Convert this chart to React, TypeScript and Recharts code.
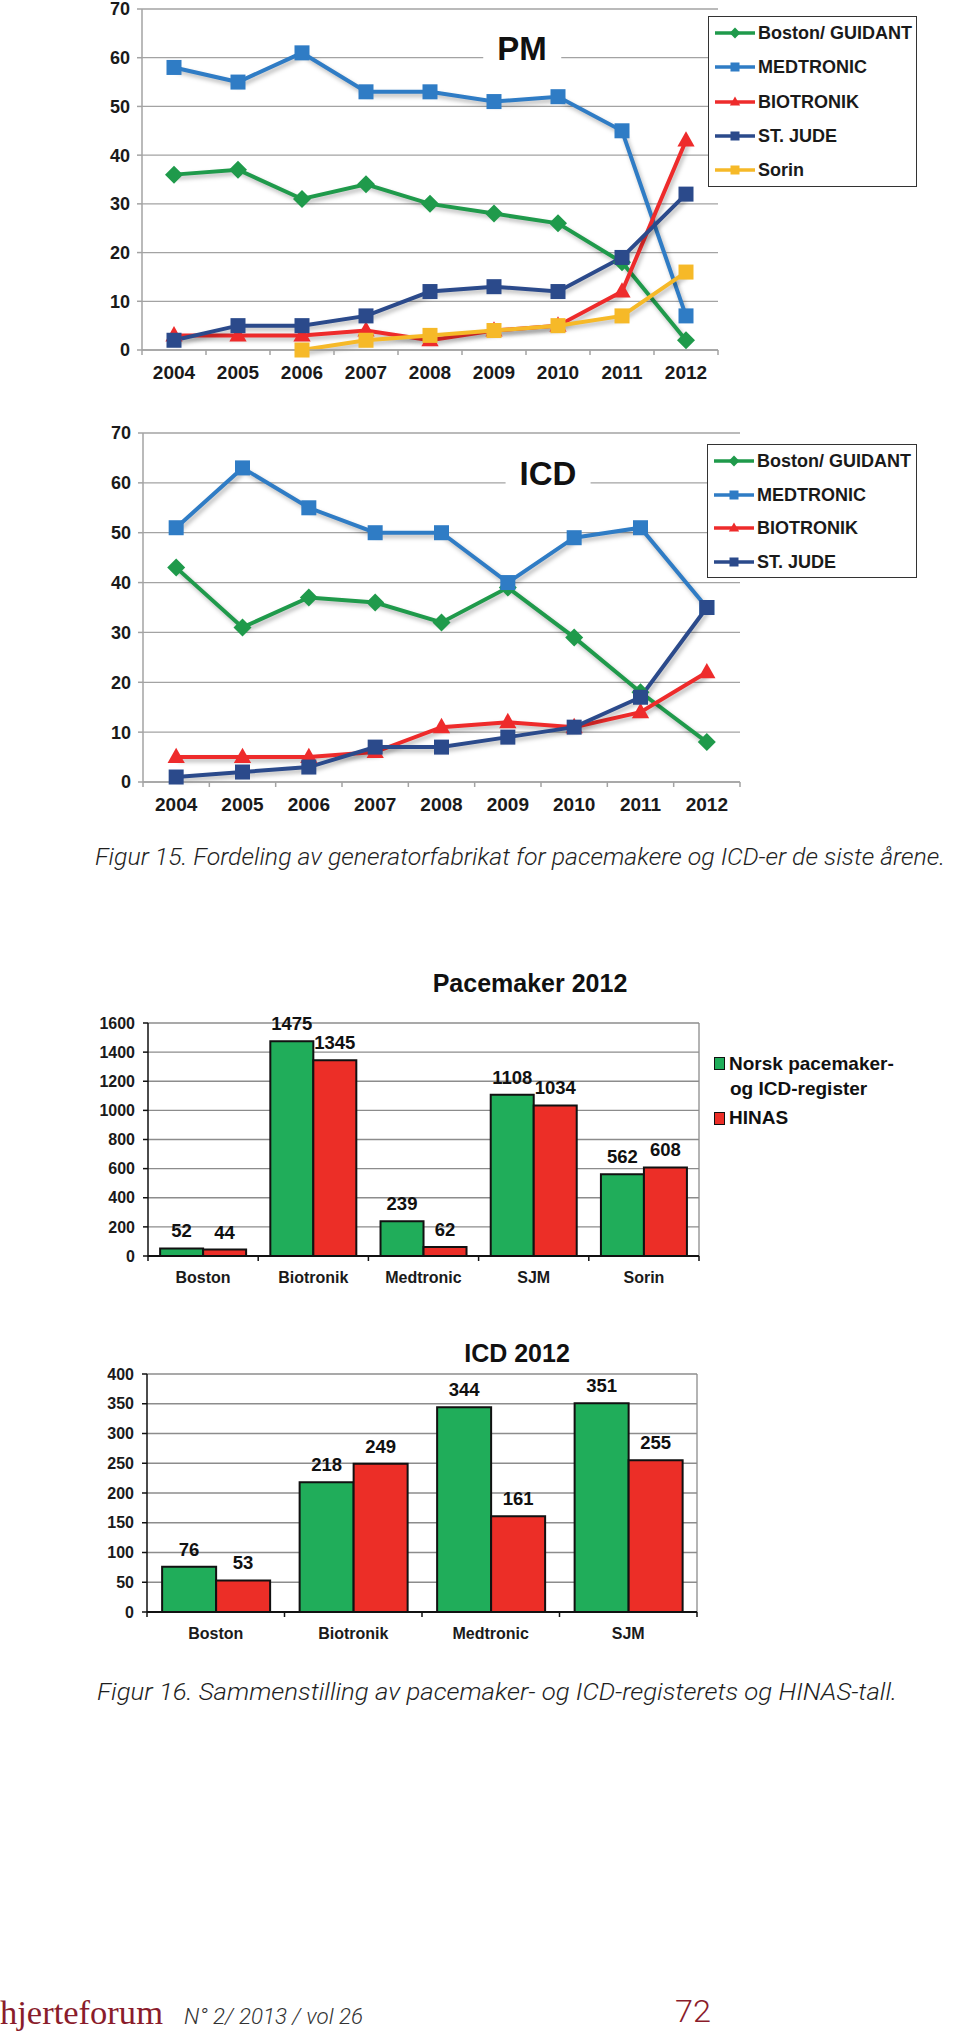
import React from "react";
import {
  LineChart,
  Line,
  BarChart,
  Bar,
  XAxis,
  YAxis,
  CartesianGrid,
  LabelList,
} from "recharts";

// ---- data ----
const years = ["2004", "2005", "2006", "2007", "2008", "2009", "2010", "2011", "2012"];
const percentTicks = [0, 10, 20, 30, 40, 50, 60, 70];

// PM shares (%)
const pmBoston = [36, 37, 31, 34, 30, 28, 26, 18, 2];
const pmMedtronic = [58, 55, 61, 53, 53, 51, 52, 45, 7];
const pmBiotronik = [3, 3, 3, 4, 2, 4, 5, 12, 43];
const pmStJude = [2, 5, 5, 7, 12, 13, 12, 19, 32];
const pmSorin = [null, null, 0, 2, 3, 4, 5, 7, 16];

// ICD shares (%)
const icdBoston = [43, 31, 37, 36, 32, 39, 29, 18, 8];
const icdMedtronic = [51, 63, 55, 50, 50, 40, 49, 51, 35];
const icdBiotronik = [5, 5, 5, 6, 11, 12, 11, 14, 22];
const icdStJude = [1, 2, 3, 7, 7, 9, 11, 17, 35];

// Pacemaker 2012
const pmMakers = ["Boston", "Biotronik", "Medtronic", "SJM", "Sorin"];
const pmRegister = [52, 1475, 239, 1108, 562];
const pmHinas = [44, 1345, 62, 1034, 608];
const pmCountTicks = [0, 200, 400, 600, 800, 1000, 1200, 1400, 1600];

// ICD 2012
const icdMakers = ["Boston", "Biotronik", "Medtronic", "SJM"];
const icdRegister = [76, 218, 344, 351];
const icdHinas = [53, 249, 161, 255];
const icdCountTicks = [0, 50, 100, 150, 200, 250, 300, 350, 400];

const pmData = years.map((year, i) => ({
  year,
  boston: pmBoston[i],
  medtronic: pmMedtronic[i],
  biotronik: pmBiotronik[i],
  stjude: pmStJude[i],
  sorin: pmSorin[i],
}));
const icdData = years.map((year, i) => ({
  year,
  boston: icdBoston[i],
  medtronic: icdMedtronic[i],
  biotronik: icdBiotronik[i],
  stjude: icdStJude[i],
}));
const pmBarData = pmMakers.map((name, i) => ({ name, register: pmRegister[i], hinas: pmHinas[i] }));
const icdBarData = icdMakers.map((name, i) => ({ name, register: icdRegister[i], hinas: icdHinas[i] }));

// ---- styles ----
const FONT = "'Liberation Sans', Arial, sans-serif";
const GREEN = "#1f9a4b";
const BLUE = "#2f7cc5";
const RED = "#ee2b2b";
const NAVY = "#2b4a8b";
const YELLOW = "#f6b928";
const GRID = "#a3a3a3";
const BAR_GREEN = "#20ad5a";
const BAR_RED = "#ec2e27";

const pmSeries = [
  { key: "boston", name: "Boston/ GUIDANT", color: GREEN, shape: "diamond" },
  { key: "medtronic", name: "MEDTRONIC", color: BLUE, shape: "square" },
  { key: "biotronik", name: "BIOTRONIK", color: RED, shape: "triangle" },
  { key: "stjude", name: "ST. JUDE", color: NAVY, shape: "square" },
  { key: "sorin", name: "Sorin", color: YELLOW, shape: "square" },
];
const icdSeries = pmSeries.slice(0, 4);

function Marker({ shape, cx, cy, color, size }: any) {
  const h = size / 2;
  if (shape === "diamond") {
    const d = h * 1.2;
    return <polygon points={`${cx},${cy - d} ${cx + d},${cy} ${cx},${cy + d} ${cx - d},${cy}`} fill={color} />;
  }
  if (shape === "triangle") {
    return (
      <polygon
        points={`${cx},${cy - h * 1.25} ${cx + h * 1.15},${cy + h * 0.8} ${cx - h * 1.15},${cy + h * 0.8}`}
        fill={color}
      />
    );
  }
  return <rect x={cx - h} y={cy - h} width={size} height={size} fill={color} />;
}

const makeDot = (shape: string, color: string) => (p: any) => {
  const { cx, cy, index, value } = p;
  if (cx == null || cy == null || value == null) return <g key={`d${index}`} />;
  return (
    <g key={`d${index}`}>
      <Marker shape={shape} cx={cx} cy={cy} color={color} size={15} />
    </g>
  );
};

// category label centred in its band, tick marks on the band edges
const bandTick =
  (step: number, count: number, color: string, fontSize: number, dy: number) => (p: any) => {
    const { x, y, payload, index } = p;
    const half = step / 2;
    return (
      <g key={`t${index}`}>
        <line x1={x - half} y1={y} x2={x - half} y2={y + 5} stroke={color} strokeWidth={1.5} />
        {index === count - 1 && (
          <line x1={x + half} y1={y} x2={x + half} y2={y + 5} stroke={color} strokeWidth={1.5} />
        )}
        <text
          x={x}
          y={y + dy}
          textAnchor="middle"
          fontFamily={FONT}
          fontWeight="bold"
          fontSize={fontSize}
          fill="#1a1a1a"
        >
          {payload.value}
        </text>
      </g>
    );
  };

function LineLegend({ series, left, top, width, height, gap }: any) {
  return (
    <div
      style={{
        position: "absolute",
        left,
        top,
        width,
        height,
        boxSizing: "border-box",
        border: "1.5px solid #333",
        background: "#fff",
        fontFamily: FONT,
        fontWeight: "bold",
        fontSize: 18,
        color: "#1a1a1a",
      }}
    >
      {series.map((s: any, i: number) => (
        <div
          key={s.key}
          style={{ position: "absolute", left: 6, top: 16 + i * gap - 10, height: 20, display: "flex", alignItems: "center" }}
        >
          <svg width={40} height={20}>
            <line x1={0} y1={10} x2={40} y2={10} stroke={s.color} strokeWidth={3.5} />
            <Marker shape={s.shape} cx={20} cy={10} color={s.color} size={9} />
          </svg>
          <span style={{ marginLeft: 3, lineHeight: "20px", whiteSpace: "nowrap" }}>{s.name}</span>
        </div>
      ))}
    </div>
  );
}

function Title({ text, cx, cy, size, pad }: any) {
  return (
    <div
      style={{
        position: "absolute",
        left: cx,
        top: cy,
        transform: "translate(-50%, -50%)",
        background: pad ? "#fff" : "transparent",
        padding: pad ? `2px ${pad}px` : 0,
        fontFamily: FONT,
        fontWeight: "bold",
        fontSize: size,
        lineHeight: `${size + 2}px`,
        color: "#111",
        whiteSpace: "nowrap",
      }}
    >
      {text}
    </div>
  );
}

function ShareChart({ data, series, top, height, margin, yWidth, step }: any) {
  return (
    <div className="share" style={{ position: "absolute", left: 0, top }}>
      <LineChart width={960} height={height} data={data} margin={margin}>
        <CartesianGrid vertical={false} stroke={GRID} strokeWidth={1.3} />
        <XAxis
          dataKey="year"
          interval={0}
          height={40}
          padding={{ left: step / 2, right: step / 2 }}
          axisLine={{ stroke: GRID, strokeWidth: 1.5 }}
          tickLine={false}
          tickSize={0}
          tickMargin={0}
          tick={bandTick(step, years.length, GRID, 19, 29)}
        />
        <YAxis
          width={yWidth}
          domain={[0, 70]}
          ticks={percentTicks}
          interval={0}
          axisLine={{ stroke: GRID, strokeWidth: 1.5 }}
          tickLine={{ stroke: GRID, strokeWidth: 1.5 }}
          tickSize={5}
          tickMargin={7}
          tick={{ fontFamily: FONT, fontWeight: "bold", fontSize: 18, fill: "#1a1a1a" }}
        />
        {series.map((s: any) => (
          <Line
            key={s.key}
            dataKey={s.key}
            name={s.name}
            stroke={s.color}
            strokeWidth={4}
            dot={makeDot(s.shape, s.color)}
            activeDot={false}
            connectNulls={false}
            isAnimationActive={false}
          />
        ))}
      </LineChart>
    </div>
  );
}

function CountChart({ data, top, height, margin, yWidth, max, ticks, step }: any) {
  const labelStyle = { fontFamily: FONT, fontWeight: "bold", fontSize: 18.5, fill: "#111" };
  return (
    <div style={{ position: "absolute", left: 0, top }}>
      <BarChart width={960} height={height} data={data} margin={margin} barCategoryGap="11%" barGap={0}>
        <CartesianGrid
          stroke="#8c8c8c"
          strokeWidth={1.3}
          verticalCoordinatesGenerator={({ offset }: any) => [offset.left + offset.width]}
        />
        <XAxis
          dataKey="name"
          interval={0}
          height={35}
          axisLine={{ stroke: "#111", strokeWidth: 2 }}
          tickLine={false}
          tickSize={0}
          tickMargin={0}
          tick={bandTick(step, data.length, "#111", 16, 27)}
        />
        <YAxis
          width={yWidth}
          domain={[0, max]}
          ticks={ticks}
          interval={0}
          axisLine={{ stroke: "#111", strokeWidth: 1.5 }}
          tickLine={{ stroke: "#111", strokeWidth: 1.5 }}
          tickSize={5}
          tickMargin={8}
          tick={{ fontFamily: FONT, fontWeight: "bold", fontSize: 16, fill: "#1a1a1a" }}
        />
        <Bar dataKey="register" fill={BAR_GREEN} stroke="#111" strokeWidth={2} isAnimationActive={false}>
          <LabelList dataKey="register" position="top" offset={11} {...labelStyle} />
        </Bar>
        <Bar dataKey="hinas" fill={BAR_RED} stroke="#111" strokeWidth={2} isAnimationActive={false}>
          <LabelList dataKey="hinas" position="top" offset={11} {...labelStyle} />
        </Bar>
      </BarChart>
    </div>
  );
}

function BarLegend({ left, top }: any) {
  const sw = (c: string) => (
    <span
      style={{
        display: "inline-block",
        width: 9,
        height: 11,
        background: c,
        border: "1.5px solid #111",
        marginRight: 4,
        verticalAlign: "middle",
      }}
    />
  );
  return (
    <div
      style={{
        position: "absolute",
        left,
        top,
        fontFamily: FONT,
        fontWeight: "bold",
        fontSize: 19,
        color: "#111",
        lineHeight: "25px",
      }}
    >
      <div style={{ whiteSpace: "nowrap" }}>
        {sw(BAR_GREEN)}
        <span style={{ verticalAlign: "middle" }}>Norsk pacemaker-</span>
      </div>
      <div style={{ whiteSpace: "nowrap", paddingLeft: 16 }}>og ICD-register</div>
      <div style={{ whiteSpace: "nowrap", marginTop: 3 }}>
        {sw(BAR_RED)}
        <span style={{ verticalAlign: "middle" }}>HINAS</span>
      </div>
    </div>
  );
}

function Caption({ text, top, x, y, len }: any) {
  return (
    <svg style={{ position: "absolute", left: 0, top }} width={960} height={60}>
      <text
        x={x}
        y={y}
        textLength={len}
        lengthAdjust="spacingAndGlyphs"
        fontFamily="Roboto, 'Open Sans', sans-serif"
        fontWeight={300}
        fontStyle="italic"
        fontSize={24}
        fill="#1e1e1e"
      >
        {text}
      </text>
    </svg>
  );
}

export default function App() {
  return (
    <div
      style={{
        position: "absolute",
        left: 0,
        top: 0,
        width: 960,
        height: 2034,
        background: "#fff",
        overflow: "hidden",
      }}
    >
      <style>{`.share .recharts-line { filter: drop-shadow(2px 3px 2px rgba(0,0,0,0.28)); }`}</style>
      <ShareChart
        data={pmData}
        series={pmSeries}
        top={-10}
        height={410}
        margin={{ top: 19, right: 242, bottom: 10, left: 0 }}
        yWidth={142}
        step={64}
      />
      <Title text="PM" cx={522} cy={48} size={33} pad={14} />
      <LineLegend series={pmSeries} left={708} top={16} width={209} height={171} gap={34.3} />

      <ShareChart
        data={icdData}
        series={icdSeries}
        top={400}
        height={440}
        margin={{ top: 33, right: 220, bottom: 18, left: 0 }}
        yWidth={143}
        step={66.33}
      />
      <Title text="ICD" cx={548} cy={473} size={33} pad={14} />
      <LineLegend series={icdSeries} left={707} top={444} width={210} height={134} gap={33.7} />

      <Caption
        text="Figur 15. Fordeling av generatorfabrikat for pacemakere og ICD-er de siste årene."
        top={820}
        x={95}
        y={45}
        len={850}
      />

      <Title text="Pacemaker 2012" cx={530} cy={983} size={25} />
      <CountChart
        data={pmBarData}
        top={1000}
        height={300}
        margin={{ top: 23, right: 261, bottom: 9, left: 0 }}
        yWidth={148}
        max={1600}
        ticks={pmCountTicks}
        step={110.2}
      />
      <BarLegend left={714} top={1050} />

      <Title text="ICD 2012" cx={517} cy={1353} size={25} />
      <CountChart
        data={icdBarData}
        top={1360}
        height={300}
        margin={{ top: 14, right: 263, bottom: 13, left: 0 }}
        yWidth={147}
        max={400}
        ticks={icdCountTicks}
        step={137.5}
      />

      <Caption
        text="Figur 16. Sammenstilling av pacemaker- og ICD-registerets og HINAS-tall."
        top={1660}
        x={97}
        y={40}
        len={800}
      />

      <svg style={{ position: "absolute", left: 0, top: 1980 }} width={960} height={54}>
        <text
          x={0}
          y={44}
          textLength={163}
          lengthAdjust="spacingAndGlyphs"
          fontFamily="'Liberation Serif', 'DejaVu Serif', serif"
          fontSize={34}
          fill="#8a1c2b"
        >
          hjerteforum
        </text>
        <text
          x={184}
          y={44}
          textLength={179}
          lengthAdjust="spacingAndGlyphs"
          fontFamily="Roboto, sans-serif"
          fontWeight={300}
          fontStyle="italic"
          fontSize={22}
          fill="#333"
        >
          N° 2/ 2013 / vol 26
        </text>
        <text
          x={675}
          y={42}
          textLength={36}
          lengthAdjust="spacingAndGlyphs"
          fontFamily="Roboto, sans-serif"
          fontWeight={300}
          fontSize={32}
          fill="#8a1c2b"
        >
          72
        </text>
      </svg>
    </div>
  );
}
